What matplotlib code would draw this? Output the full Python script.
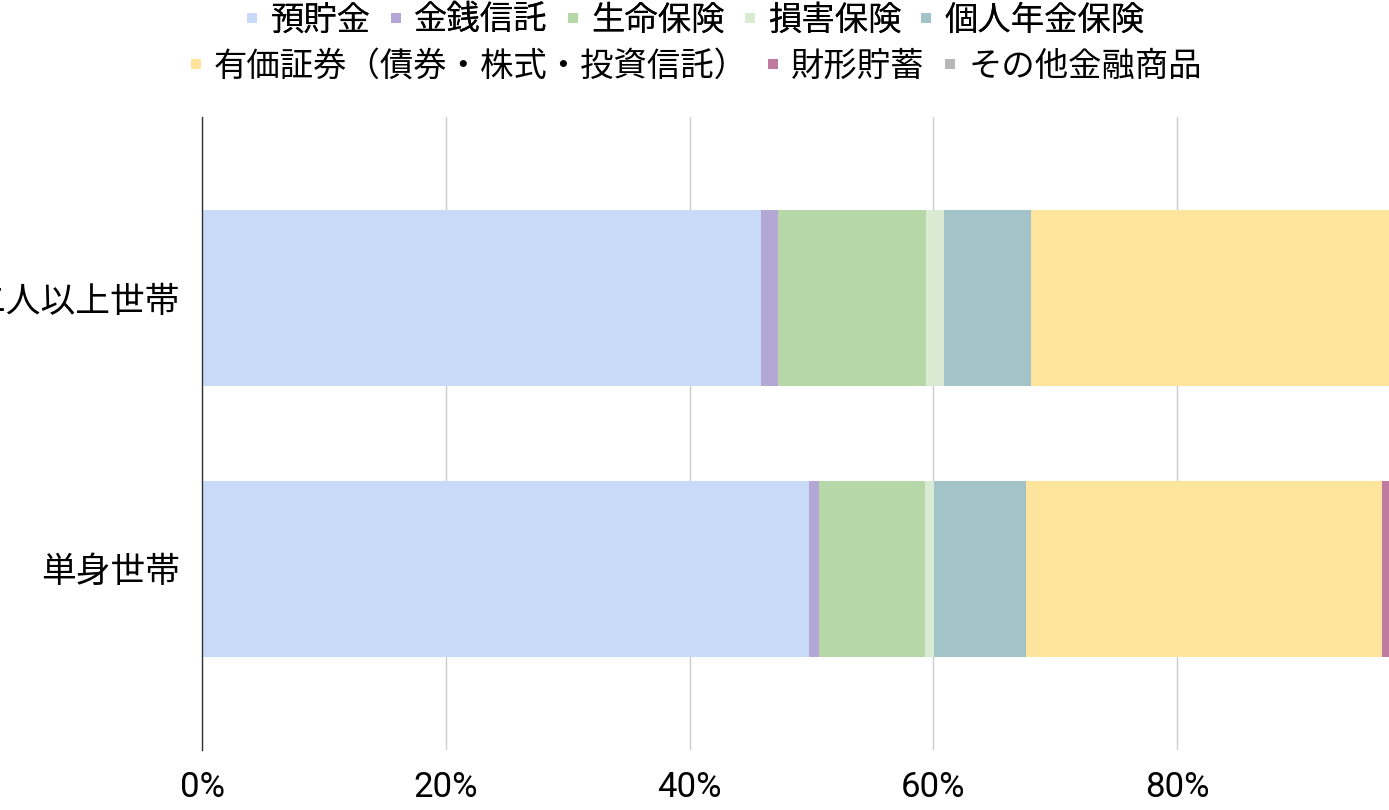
import matplotlib.pyplot as plt
from matplotlib.lines import Line2D
import numpy as np

plt.rcParams['font.family'] = ['Noto Sans CJK JP', 'DejaVu Sans']

# household types, top to bottom
households = ['二人以上世帯', '単身世帯']

# asset categories and their share (%) per household type
categories = ['預貯金', '金銭信託', '生命保険', '損害保険', '個人年金保険',
              '有価証券（債券・株式・投資信託）', '財形貯蓄', 'その他金融商品']
share_multi = [45.9, 1.4, 12.1, 1.5, 7.1, 30.2, 1.2, 0.6]
share_single = [49.8, 0.8, 8.7, 0.8, 7.5, 29.2, 1.6, 1.6]

colors = ['#c9daf8', '#b4a7d6', '#b6d7a8', '#d9ead3', '#a2c4c9',
          '#fee49c', '#c27ba0', '#b7b7b7']

xticks = [0, 20, 40, 60, 80]
xtick_labels = ['0%', '20%', '40%', '60%', '80%']

fig = plt.figure(figsize=(13.89, 8.10), dpi=100)
# the axes runs past the right edge of the figure, as in the reference
ax = fig.add_axes([202 / 1389, 60 / 810, 1218.75 / 1389, 633 / 810])

data = np.array([share_multi, share_single])
ypos = np.array([1, 0])
left = np.zeros(len(households))
for i, cat in enumerate(categories):
    ax.barh(ypos, data[:, i], left=left, height=0.65, color=colors[i],
            linewidth=0, label=cat, zorder=3)
    left += data[:, i]

ax.set_xlim(0, 100)
ax.set_ylim(-0.67, 1.67)
ax.set_yticks(ypos)
ax.set_yticklabels(households, fontsize=25)
ax.set_xticks(xticks)
ax.set_xticklabels(xtick_labels, fontsize=25, family=['Roboto', 'DejaVu Sans'])
ax.grid(axis='x', color='#cccccc', linewidth=1, zorder=0)
ax.set_xticks([100], minor=True)
ax.grid(axis='x', which='minor', color='#cccccc', linewidth=1, zorder=0)
ax.tick_params(axis='both', which='both', length=0)
ax.tick_params(axis='x', pad=15)
ax.tick_params(axis='y', pad=16)

for side in ['top', 'right', 'bottom']:
    ax.spines[side].set_visible(False)
ax.spines['left'].set_color('#333333')
ax.spines['left'].set_linewidth(1)
ax.spines['left'].set_zorder(4)

# legend: two centred rows
handles = [Line2D([0], [0], marker='s', linestyle='none', markersize=7,
                  markerfacecolor=c, markeredgewidth=0) for c in colors]
common = dict(frameon=False, fontsize=24, handlelength=0.5, handletextpad=0.3,
              columnspacing=0.5, borderaxespad=0, borderpad=0)
leg1 = fig.legend(handles[:5], categories[:5], ncol=5, loc='center',
                  bbox_to_anchor=(0.5, 1 - 20 / 810), **common)
fig.add_artist(leg1)
fig.legend(handles[5:], categories[5:], ncol=3, loc='center',
           bbox_to_anchor=(0.5, 1 - 66 / 810), **common)

plt.savefig('out.png', dpi=100)
plt.close()
